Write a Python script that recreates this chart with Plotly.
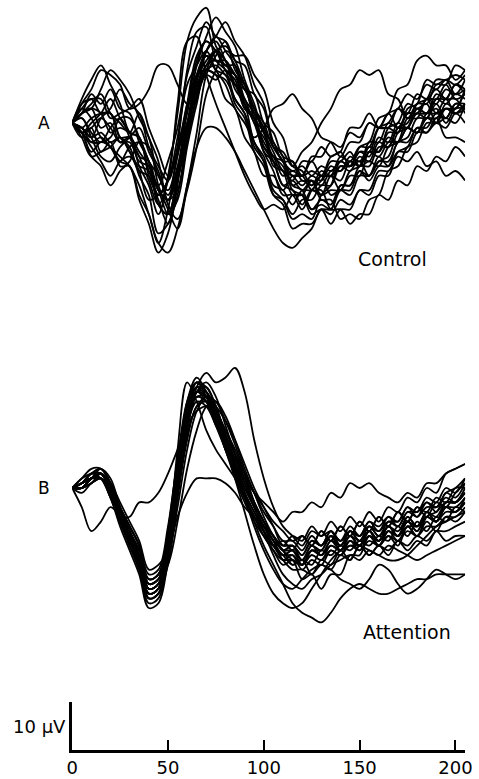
import plotly.graph_objects as go

# tiempo en ms (muestreo cada 5 ms)
t_ms = [0, 5, 10, 15, 20, 25, 30, 35, 40, 45, 50, 55, 60, 65, 70, 75, 80, 85, 90, 95,
        100, 105, 110, 115, 120, 125, 130, 135, 140, 145, 150, 155, 160, 165, 170, 175,
        180, 185, 190, 195, 200, 205]

''' A. Control (µV) '''
control_01 = [0, 3, 5, 2, 2, -3, -3, -9, -13, -19, -11, 2, 17, 22, 24, 16, 13, 7, 4, -4, -7, -13, -14, -17, -14, -14, -11, -11, -7, -8, -5, -5, -1, -1, 3, 2, 6, 5, 7, 5, 8, 7]
control_02 = [0, -2, -6, -4, -5, -8, -9, -16, -21, -27, -23, -13, 3, 9, 14, 11, 10, 4, 1, -6, -9, -15, -16, -19, -16, -16, -13, -13, -9, -10, -7, -8, -4, -5, -1, -1, 2, 1, 4, 1, 4, 3]
control_03 = [0, -2, -4, -3, -5, -7, -9, -13, -19, -25, -27, -22, -13, -5, -1, -1, -3, -6, -10, -14, -18, -22, -25, -26, -24, -22, -18, -19, -16, -17, -14, -14, -10, -10, -7, -8, -6, -9, -8, -11, -10, -12]
control_04 = [0, 4, 7, 11, 10, 8, 3, 4, 7, 12, 12, 8, 4, 7, 11, 12, 10, 8, 3, 1, -5, -7, -11, -10, -11, -7, -7, -4, -5, -2, -3, 0, -1, 2, 3, 6, 5, 8, 7, 9, 8, 10]
control_05 = [0, 2, 3, 7, 11, 9, 6, 1, -3, -11, -14, -7, 4, 14, 17, 15, 13, 8, 5, 0, -3, -7, -9, -13, -12, -13, -10, -11, -9, -9, -5, -4, 1, 2, 7, 8, 13, 14, 12, 12, 9, 11]
control_06 = [0, -1, -4, -4, -3, 1, 1, -3, -8, -15, -12, -3, 8, 12, 15, 11, 8, 3, 0, -3, -1, 3, 4, 6, 3, 1, -3, -4, -7, -4, -4, 0, -1, 2, -1, -1, -2, 2, 2, 5, 2, 3]
control_07 = [0, -2, 0, 2, 5, 1, -2, -7, -8, -14, -16, -14, -4, 6, 15, 18, 21, 17, 14, 8, 4, -4, -7, -13, -14, -18, -17, -18, -14, -14, -10, -11, -8, -8, -4, -3, 1, 1, 5, 5, 8, 6]
control_08 = [0, 3, 1, -3, -5, -8, -5, -4, -5, -13, -18, -22, -13, -2, 10, 14, 17, 13, 12, 6, 3, -5, -8, -14, -15, -19, -18, -21, -18, -18, -14, -15, -11, -11, -6, -5, -1, -1, 2, 1, 4, 4]
control_09 = [0, -3, -7, -6, -5, -3, -6, -10, -11, -15, -12, -6, 4, 10, 14, 13, 13, 10, 8, 3, 0, -5, -6, -9, -6, -4, 0, 3, 7, 8, 11, 10, 11, 6, 5, 1, 2, 2, 6, 5, 5, 2]
control_10 = [0, 2, 4, 6, 2, 0, -2, 2, -3, -8, -17, -20, -14, -5, 6, 11, 15, 14, 14, 10, 7, 0, -3, -9, -10, -13, -11, -15, -14, -15, -11, -11, -7, -9, -6, -6, -2, -2, 0, -1, 2, 0]
control_11 = [0, -2, -5, -8, -11, -8, -7, -9, -10, -17, -19, -16, -5, 4, 11, 10, 9, 5, 2, -4, -8, -14, -16, -20, -19, -20, -15, -13, -8, -9, -8, -11, -8, -7, -2, -1, 3, 2, 3, 0, 3, 3]
control_12 = [0, 4, 5, 5, 1, 2, 3, 5, -1, -6, -11, -6, 2, 12, 18, 22, 19, 16, 9, 4, -2, -4, -8, -8, -11, -10, -11, -7, -6, -1, -1, 2, -1, -1, -2, 3, 4, 9, 8, 9, 6, 7]
control_13 = [0, -1, -3, 1, 3, 7, 4, 2, -5, -9, -12, -5, 3, 10, 11, 10, 5, 3, -3, -6, -11, -11, -14, -11, -11, -8, -11, -11, -14, -11, -11, -6, -6, -1, 0, 4, 3, 4, 0, 1, 0, 4]
control_14 = [0, 1, -3, -7, -8, -5, -3, -1, -6, -10, -16, -10, -1, 9, 13, 15, 11, 10, 4, 1, -6, -8, -13, -12, -14, -12, -15, -14, -14, -10, -9, -4, -4, 0, -1, 2, 2, 5, 4, 7, 6, 9]
control_15 = [0, 2, 3, -1, 0, -4, -4, -8, -9, -13, -8, -1, 10, 16, 21, 18, 17, 11, 8, 1, -2, -9, -10, -12, -8, -8, -5, -7, -6, -9, -6, -6, -1, 0, 3, 1, 4, 4, 8, 8, 12, 11]
control_16 = [0, -1, 1, 2, 2, -3, -5, -11, -15, -23, -21, -15, -3, 5, 10, 9, 11, 8, 7, 2, -1, -8, -10, -15, -15, -18, -16, -17, -13, -13, -10, -12, -9, -9, -4, -4, -1, -2, 1, -3, -3, -4]
control_17 = [0, 5, 9, 12, 8, 4, -2, -3, -10, -14, -19, -12, -3, 9, 15, 18, 15, 12, 5, 2, -5, -8, -13, -14, -17, -14, -15, -11, -12, -8, -9, -5, -6, -2, -2, 2, 2, 5, 5, 8, 5, 6]
control_18 = [0, -3, -1, -6, -4, -9, -9, -15, -19, -25, -18, -5, 11, 19, 20, 13, 11, 5, 2, -5, -8, -15, -17, -22, -21, -21, -18, -18, -13, -13, -9, -9, -5, -5, -1, 0, 4, 5, 9, 9, 10, 9]
control_19 = [0, -2, -7, -9, -13, -10, -8, -4, -8, -11, -15, -9, 0, 10, 15, 17, 13, 10, 4, 0, -6, -10, -15, -15, -18, -14, -12, -8, -8, -6, -9, -8, -9, -5, -4, 1, 1, 5, 2, 3, 3, 7]
control_20 = [0, 2, 3, 2, -2, -1, -2, -3, -11, -16, -21, -12, -2, 8, 12, 15, 12, 12, 7, 6, 0, -2, -7, -8, -12, -12, -16, -16, -20, -19, -20, -16, -15, -10, -9, -5, -4, 0, 0, 4, 3, 7]
control_21 = [0, -1, -3, -2, -4, -3, -6, -10, -16, -15, -12, -6, 0, 6, 11, 15, 16, 13, 8, 3, -2, -6, -10, -11, -13, -11, -12, -9, -10, -7, -8, -5, -6, -3, -4, -1, -2, 1, 0, 3, 2, 4]
control_22 = [0, 2, 6, 4, 7, 3, 2, -4, -8, -17, -19, -10, 3, 13, 17, 15, 11, 9, 3, 1, -4, -7, -8, -11, -11, -14, -14, -18, -18, -21, -19, -19, -15, -16, -12, -13, -9, -10, -7, -8, -5, -7]
control_23 = [0, 1, -2, -4, -1, 1, -3, -7, -12, -17, -12, 4, 17, 18, 10, 4, -1, -6, -11, -15, -18, -17, -18, -15, -15, -12, -13, -10, -10, -8, -9, -6, -7, -4, -4, -1, -2, 1, 1, 3, 2, 4]
control_24 = [0, -2, -1, 1, -1, -4, -3, -6, -9, -14, -16, -11, -2, 7, 12, 13, 12, 10, 7, 3, -1, -5, -8, -10, -9, -11, -9, -10, -8, -9, -6, -7, -3, -4, 0, -1, 3, 2, 5, 4, 6, 5]

''' B. Atención (µV) '''
atencion_01 = [0, 1, 3, 4, 1, -4, -8, -12, -19, -18, -12, 0, 12, 21, 24, 22, 23, 25, 20, 10, 2, -4, -8, -10, -12, -9, -10, -9, -12, -9, -10, -7, -9, -6, -7, -4, -5, -2, -3, 0, -1, 2]
atencion_02 = [0, 0, 2, 3, -1, -7, -12, -17, -24, -23, -12, 8, 22, 18, 12, 8, 5, 2, -2, -6, -9, -12, -14, -16, -15, -16, -13, -14, -12, -13, -11, -12, -10, -11, -8, -10, -7, -9, -6, -7, -4, -5]
atencion_03 = [0, 1, 2, 3, 1, -3, -7, -11, -17, -16, -13, -6, -1, 2, 2, 2, 1, -1, -4, -6, -8, -10, -13, -12, -14, -11, -12, -9, -11, -9, -10, -7, -8, -6, -8, -5, -5, -3, -4, -2, -3, -1]
atencion_04 = [0, -1, 1, 2, -2, -8, -13, -18, -25, -24, -15, 0, 13, 20, 20, 16, 10, 5, 0, -4, -8, -11, -15, -15, -19, -18, -21, -18, -18, -14, -14, -10, -12, -9, -10, -8, -8, -6, -7, -4, -4, -2]
atencion_05 = [0, 0, 2, 3, 0, -5, -9, -13, -20, -19, -10, 4, 16, 22, 21, 17, 11, 5, -1, -7, -12, -16, -20, -24, -26, -27, -28, -26, -23, -21, -20, -21, -22, -22, -21, -20, -19, -19, -18, -18, -18, -18]
atencion_06 = [0, 1, 2, 2, -1, -6, -10, -14, -21, -20, -11, 3, 15, 21, 20, 15, 9, 2, -5, -12, -18, -22, -24, -25, -24, -21, -18, -15, -13, -12, -12, -13, -14, -15, -15, -14, -12, -10, -8, -7, -6, -5]
atencion_07 = [0, 2, 4, 4, 1, -4, -8, -12, -18, -17, -8, 6, 17, 22, 20, 16, 11, 6, 2, -1, -3, -5, -7, -5, -5, -3, -4, -1, -2, 1, 0, 1, -1, -2, -3, -1, -2, 1, 1, 3, 4, 5]
atencion_08 = [0, -4, -9, -7, -4, -6, -10, -14, -19, -18, -10, 3, 14, 19, 18, 14, 9, 4, -1, -5, -9, -12, -14, -13, -15, -12, -13, -10, -12, -9, -11, -8, -10, -8, -9, -6, -8, -5, -6, -3, -3, -1]
atencion_09 = [0, 1, 3, 2, -2, -6, -6, -3, -3, -1, 3, 8, 13, 16, 17, 15, 11, 7, 3, -1, -4, -7, -9, -11, -10, -12, -9, -11, -8, -10, -7, -9, -6, -8, -5, -7, -4, -5, -2, -3, 0, 0]
atencion_10 = [0, 1, 2, 3, 0, -6, -11, -15, -22, -21, -12, 2, 14, 20, 19, 15, 10, 6, 1, -3, -7, -10, -13, -12, -14, -11, -12, -10, -13, -11, -12, -9, -11, -8, -10, -7, -9, -5, -7, -3, -3, -1]
atencion_11 = [0, 0, 1, 2, -1, -7, -12, -16, -23, -22, -13, 1, 13, 18, 17, 13, 9, 5, 1, -3, -7, -10, -13, -13, -16, -14, -15, -12, -13, -10, -11, -9, -12, -10, -12, -8, -10, -6, -5, -3, -3, 0]
atencion_12 = [0, 1, 3, 4, 2, -4, -9, -13, -19, -18, -9, 5, 17, 21, 19, 14, 8, 3, -2, -6, -10, -13, -16, -15, -16, -13, -13, -10, -11, -9, -11, -8, -10, -7, -7, -4, -6, -3, -5, -1, -2, 1]
atencion_13 = [0, 0, 2, 3, 0, -5, -9, -14, -21, -20, -13, -1, 11, 17, 19, 17, 14, 10, 5, 0, -4, -8, -12, -12, -15, -13, -14, -12, -13, -11, -12, -9, -11, -8, -10, -6, -8, -5, -7, -4, -5, -3]
atencion_14 = [0, 2, 3, 3, 0, -5, -10, -14, -20, -19, -11, 2, 14, 19, 18, 14, 9, 4, -1, -5, -8, -10, -12, -10, -11, -8, -10, -7, -9, -6, -8, -5, -7, -4, -5, -2, -3, 0, -1, 3, 4, 5]
atencion_15 = [0, 0, 1, 2, -1, -7, -11, -15, -21, -20, -14, -2, 10, 17, 18, 16, 12, 7, 2, -3, -7, -11, -13, -16, -15, -18, -15, -16, -13, -15, -12, -14, -12, -14, -11, -13, -11, -12, -9, -11, -10, -10]
atencion_16 = [0, 1, 2, 2, -1, -6, -11, -15, -22, -21, -11, 4, 16, 20, 18, 13, 8, 3, -2, -6, -10, -13, -15, -14, -16, -13, -14, -11, -13, -10, -12, -10, -11, -8, -10, -7, -8, -6, -7, -5, -5, -3]
atencion_17 = [0, 1, 2, 3, 0, -6, -10, -14, -21, -20, -11, 3, 15, 20, 19, 15, 10, 4, -2, -8, -13, -17, -20, -21, -19, -17, -16, -17, -19, -20, -21, -19, -16, -17, -20, -22, -21, -19, -17, -18, -19, -18]
atencion_18 = [0, 0, 2, 4, 1, -5, -10, -15, -23, -22, -14, 3, 18, 23, 20, 14, 8, 2, -3, -7, -10, -12, -11, -13, -10, -12, -9, -11, -8, -10, -7, -9, -6, -8, -5, -7, -4, -6, -3, -4, -1, 1]
atencion_19 = [0, 1, 2, 3, 1, -4, -8, -12, -20, -19, -16, -7, 4, 12, 17, 18, 15, 10, 4, -1, -6, -10, -13, -15, -16, -14, -15, -13, -14, -12, -13, -11, -12, -10, -11, -9, -10, -8, -8, -6, -6, -4]
atencion_20 = [0, 0, 2, 3, -1, -6, -11, -16, -22, -21, -13, 1, 14, 20, 21, 17, 11, 5, 0, -4, -8, -11, -14, -14, -17, -15, -16, -13, -14, -11, -13, -10, -12, -9, -11, -8, -10, -7, -9, -6, -7, -5]
atencion_21 = [0, 1, 2, 3, 0, -6, -12, -17, -22, -21, -9, 6, 18, 22, 19, 14, 8, 3, -2, -6, -9, -12, -14, -13, -15, -12, -14, -11, -12, -10, -12, -9, -11, -9, -10, -7, -9, -6, -7, -4, -5, -2]
atencion_22 = [0, 0, 1, 3, 1, -5, -9, -14, -23, -22, -16, -2, 12, 20, 22, 19, 13, 7, 1, -4, -8, -12, -15, -17, -17, -18, -16, -17, -14, -15, -12, -14, -12, -13, -11, -12, -10, -11, -9, -9, -8, -7]
atencion_23 = [0, 1, 3, 3, -1, -6, -10, -15, -20, -19, -12, 1, 13, 19, 19, 16, 12, 8, 3, -1, -5, -8, -11, -11, -13, -10, -12, -9, -11, -8, -10, -8, -9, -7, -8, -5, -6, -4, -4, -1, 0, 2]
atencion_24 = [0, 1, 2, 2, -2, -7, -11, -15, -21, -20, -15, -4, 8, 16, 19, 18, 14, 9, 3, -3, -9, -14, -18, -20, -21, -19, -18, -16, -15, -14, -15, -13, -14, -12, -13, -14, -15, -14, -13, -12, -11, -10]

trazos_control = [control_01, control_02, control_03, control_04, control_05, control_06,
                  control_07, control_08, control_09, control_10, control_11, control_12,
                  control_13, control_14, control_15, control_16, control_17, control_18,
                  control_19, control_20, control_21, control_22, control_23, control_24]
trazos_atencion = [atencion_01, atencion_02, atencion_03, atencion_04, atencion_05, atencion_06,
                   atencion_07, atencion_08, atencion_09, atencion_10, atencion_11, atencion_12,
                   atencion_13, atencion_14, atencion_15, atencion_16, atencion_17, atencion_18,
                   atencion_19, atencion_20, atencion_21, atencion_22, atencion_23, atencion_24]

ticks_x = [0, 50, 100, 150, 200]
barra_uv = [0, 10]

''' Geometría de la figura (pixeles) '''
W, H = 479, 779
alto_plot = 750          # eje de tiempo en y=750 px
px_uv = 4.8              # 10 µV = 48 px
px_ms = 1.97
x0_px = 68
x1_px = 472
cero_A = 123
cero_B = 488

linea = dict(color='black', width=1.8, shape='spline', smoothing=1.0)

fig = go.Figure()
for tr in trazos_control:
    fig.add_trace(go.Scatter(x=t_ms, y=tr, mode='lines', line=linea, xaxis='x', yaxis='y',
                             showlegend=False, hoverinfo='skip'))
for tr in trazos_atencion:
    fig.add_trace(go.Scatter(x=t_ms, y=tr, mode='lines', line=linea, xaxis='x', yaxis='y2',
                             showlegend=False, hoverinfo='skip'))
# barra de calibración vertical (la dibuja el eje y3)
fig.add_trace(go.Scatter(x=[0, 0], y=barra_uv, mode='lines', line=dict(color='black', width=0),
                         xaxis='x', yaxis='y3', showlegend=False, hoverinfo='skip'))

fuente = 'DejaVu Sans, Arial, sans-serif'

fig.update_layout(
    width=W, height=H,
    margin=dict(l=0, r=0, t=0, b=H - alto_plot, pad=0),
    paper_bgcolor='white', plot_bgcolor='white',
    font=dict(family=fuente, color='black'),
    xaxis=dict(domain=[x0_px / W, x1_px / W],
               range=[0, (x1_px - x0_px) / px_ms],
               anchor='y3', showline=True, linecolor='black', linewidth=2.5,
               ticks='inside', ticklen=10, tickwidth=2, tickcolor='black',
               tickvals=ticks_x, ticktext=[str(v) for v in ticks_x],
               ticklabeloverflow='allow',
               tickfont=dict(size=18, family=fuente, color='black'),
               showgrid=False, zeroline=False),
    yaxis=dict(domain=[0, 1], range=[-(alto_plot - cero_A) / px_uv, cero_A / px_uv],
               visible=False, anchor='x'),
    yaxis2=dict(domain=[0, 1], range=[-(alto_plot - cero_B) / px_uv, cero_B / px_uv],
                visible=False, anchor='x', overlaying='y'),
    yaxis3=dict(domain=[0, 48 / alto_plot], range=[0, 10], anchor='x',
                showline=True, linecolor='black', linewidth=2.5,
                showticklabels=False, ticks='', showgrid=False, zeroline=False),
)

def py(p):
    return (alto_plot - p) / alto_plot

anot = [
    dict(text='A', x=39 / W, y=py(123), size=17),
    dict(text='B', x=39 / W, y=py(488), size=17),
    dict(text='Control', x=397 / W, y=py(259), size=19),
    dict(text='Attention', x=412 / W, y=py(632), size=19),
]
for a in anot:
    fig.add_annotation(text=a['text'], x=a['x'], y=a['y'], xref='paper', yref='paper',
                       showarrow=False, xanchor='center', yanchor='middle',
                       font=dict(size=a['size'], family=fuente, color='black'))
fig.add_annotation(text='10 µV', x=64 / W, y=py(726), xref='paper', yref='paper',
                   showarrow=False, xanchor='right', yanchor='middle',
                   font=dict(size=18, family=fuente, color='black'))

# sin margen del body para que la figura quede en (0,0)
fig.write_html("out.html", config={'displayModeBar': False},
               post_script="document.body.style.margin='0px';document.body.style.overflow='hidden';")
